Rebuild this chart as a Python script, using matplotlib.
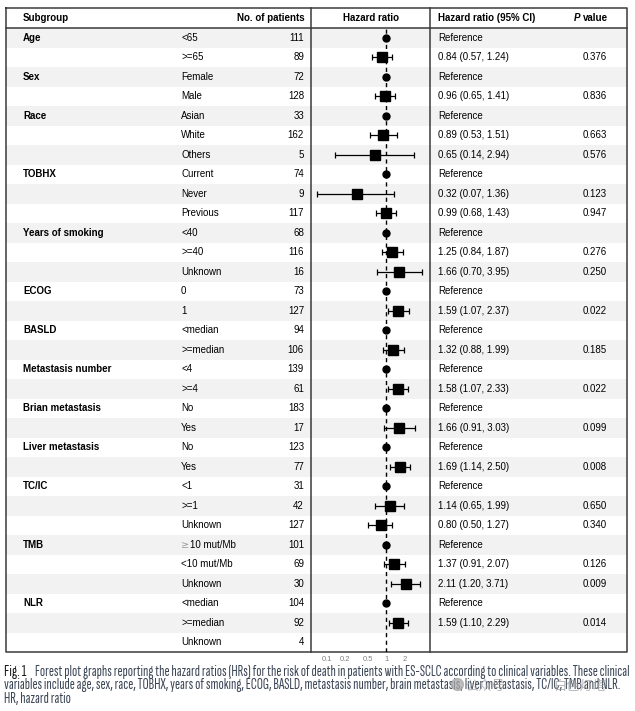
import numpy as np
import matplotlib.pyplot as plt
from matplotlib import font_manager

plt.rcParams['font.family'] = ['Liberation Sans', 'DejaVu Sans']

# table data, one entry per row
groups = ['Age', '', 'Sex', '', 'Race', '', '', 'TOBHX', '', '',
          'Years of smoking', '', '', 'ECOG', '', 'BASLD', '',
          'Metastasis number', '', 'Brian metastasis', '', 'Liver metastasis', '',
          'TC/IC', '', '', 'TMB', '', '', 'NLR', '', '']
levels = ['<65', '>=65', 'Female', 'Male', 'Asian', 'White', 'Others',
          'Current', 'Never', 'Previous', '<40', '>=40', 'Unknown', '0', '1',
          '<median', '>=median', '<4', '>=4', 'No', 'Yes', 'No', 'Yes',
          '<1', '>=1', 'Unknown', '\u226510 mut/Mb', '<10 mut/Mb', 'Unknown',
          '<median', '>=median', 'Unknown']
n_patients = [111, 89, 72, 128, 33, 162, 5, 74, 9, 117, 68, 116, 16, 73, 127,
              94, 106, 139, 61, 183, 17, 123, 77, 31, 42, 127, 101, 69, 30,
              104, 92, 4]
# 'ref' = reference level, None = not estimated
hr = ['ref', 0.84, 'ref', 0.96, 'ref', 0.89, 0.65, 'ref', 0.32, 0.99,
      'ref', 1.25, 1.66, 'ref', 1.59, 'ref', 1.32, 'ref', 1.58, 'ref', 1.66,
      'ref', 1.69, 'ref', 1.14, 0.80, 'ref', 1.37, 2.11, 'ref', 1.59, None]
ci_low = [None, 0.57, None, 0.65, None, 0.53, 0.14, None, 0.07, 0.68,
          None, 0.84, 0.70, None, 1.07, None, 0.88, None, 1.07, None, 0.91,
          None, 1.14, None, 0.65, 0.50, None, 0.91, 1.20, None, 1.10, None]
ci_high = [None, 1.24, None, 1.41, None, 1.51, 2.94, None, 1.36, 1.43,
           None, 1.87, 3.95, None, 2.37, None, 1.99, None, 2.33, None, 3.03,
           None, 2.50, None, 1.99, 1.27, None, 2.07, 3.71, None, 2.29, None]
p_values = ['', '0.376', '', '0.836', '', '0.663', '0.576', '', '0.123', '0.947',
            '', '0.276', '0.250', '', '0.022', '', '0.185', '', '0.022', '', '0.099',
            '', '0.008', '', '0.650', '0.340', '', '0.126', '0.009', '', '0.014', '']
ticks = [0.1, 0.2, 0.5, 1, 2]

caption = ['Forest plot graphs reporting the hazard ratios (HRs) for the risk of death in patients with ES-SCLC according to clinical variables. These clinical',
           'variables include age, sex, race, TOBHX, years of smoking, ECOG, BASLD, metastasis number, brain metastasis, liver metastasis, TC/IC, TMB and NLR.',
           'HR, hazard ratio']

W, H = 635, 711
fig = plt.figure(figsize=(W / 100, H / 100), dpi=100)

# background axes in pixel coords for the table
tab = fig.add_axes([0, 0, 1, 1])
tab.set_xlim(0, W)
tab.set_ylim(H, 0)
tab.axis('off')

left, right, top, head, bottom = 6, 627, 8, 28, 652
x_sep1, x_sep2 = 311, 430
nrows = len(levels)
row_h = (bottom - head) / nrows
fs = 7

for i in range(nrows):
    y0 = head + i * row_h
    if i % 2 == 0:
        tab.fill_between([left, right], y0, y0 + row_h, color='#f2f2f2', lw=0, zorder=0)

# frame
lc = '#3a3a3a'
tab.plot([left, right, right, left, left], [top, top, bottom, bottom, top], color=lc, lw=1.1, zorder=3)
tab.plot([left, right], [head, head], color=lc, lw=1.1, zorder=3)
for xs in (x_sep1, x_sep2):
    tab.plot([xs, xs], [top, bottom], color=lc, lw=1.1, zorder=3)

# header
hy = (top + head) / 2
tab.text(23, hy, 'Subgroup', fontsize=fs, fontweight='bold', va='center')
tab.text(305, hy, 'No. of patients', fontsize=fs, fontweight='bold', va='center', ha='right')
tab.text(371, hy, 'Hazard ratio', fontsize=fs, fontweight='bold', va='center', ha='center')
tab.text(438, hy, 'Hazard ratio (95% CI)', fontsize=fs, fontweight='bold', va='center')
tab.text(574, hy, 'P', fontsize=fs, fontweight='bold', style='italic', va='center')
tab.text(583, hy, 'value', fontsize=fs, fontweight='bold', va='center')

for i in range(nrows):
    y = head + (i + 0.5) * row_h
    if groups[i]:
        tab.text(23, y, groups[i], fontsize=fs, fontweight='bold', va='center')
    lvl = levels[i]
    if lvl.startswith('\u2265'):
        tab.text(181, y, lvl[0], fontsize=fs, va='center', color='#a0a0a0', family='DejaVu Sans')
        tab.text(190, y, lvl[1:], fontsize=fs, va='center')
    else:
        tab.text(181, y, lvl, fontsize=fs, va='center')
    tab.text(304, y, str(n_patients[i]), fontsize=fs, va='center', ha='right')
    if hr[i] == 'ref':
        tab.text(438, y, 'Reference', fontsize=fs, va='center')
    elif hr[i] is not None:
        tab.text(438, y, f'{hr[i]:.2f} ({ci_low[i]:.2f}, {ci_high[i]:.2f})', fontsize=fs, va='center')
    if p_values[i]:
        tab.text(595, y, p_values[i], fontsize=fs, va='center', ha='center')

# forest plot axes
fx = fig.add_axes([x_sep1 / W, (H - bottom) / H, (x_sep2 - x_sep1) / W, (bottom - head) / H])
fx.patch.set_alpha(0)
fx.set_xscale('log')
fx.set_xlim(0.0545, 5.41)
fx.set_ylim(nrows, 0)
for s in fx.spines.values():
    s.set_visible(False)
fx.axvline(1, color='black', lw=1, ls=(0, (3, 2.5)), zorder=1)

for i in range(nrows):
    y = i + 0.5
    if hr[i] == 'ref':
        fx.plot(1, y, 'o', color='black', ms=5, zorder=3)
    elif hr[i] is not None:
        fx.errorbar(hr[i], y, xerr=[[hr[i] - ci_low[i]], [ci_high[i] - hr[i]]],
                    fmt='s', color='black', ms=7.5, elinewidth=0.9, capsize=2.2,
                    capthick=0.9, zorder=3)

fx.set_xticks(ticks)
fx.set_xticklabels([str(t) for t in ticks])
fx.xaxis.set_minor_locator(plt.NullLocator())
fx.tick_params(axis='x', length=0, pad=3, labelsize=5.5, labelcolor='#808080')
fx.set_yticks([])

# caption: narrowest installed sans face, size fitted so line 1 ends near the right edge
names = sorted({f.name for f in font_manager.fontManager.ttflist})
cands = [n for n in names if 'Sans' in n and ('Narrow' in n or 'Condensed' in n)] + ['Lato', 'Roboto']
renderer = fig.canvas.get_renderer()
best = None
for fam in cands:
    probe = fig.text(0, 0, caption[0], fontsize=10, family=fam)
    wpx = probe.get_window_extent(renderer).width
    probe.remove()
    size = 10 * (627 - 35) / wpx
    if best is None or size > best[1]:
        best = (fam, size)
cap_font, cfs = best
cap_c = '#3b4656'

tab.text(4, 672, 'Fig. 1', fontsize=cfs * 1.05, fontweight='bold', color='#1a1a1a',
         family=cap_font, va='center')
tab.text(35, 672, caption[0], fontsize=cfs, color=cap_c, family=cap_font, va='center')
tab.text(4, 685.5, caption[1], fontsize=cfs, color=cap_c, family=cap_font, va='center')
tab.text(4, 699, caption[2], fontsize=cfs, color=cap_c, family=cap_font, va='center')

# watermark
cjk = ['Noto Sans CJK SC', 'DejaVu Sans']
tab.plot(457, 684, 'o', ms=8.5, color='#a8a8a8', alpha=0.75, zorder=4)
tab.text(465, 686, '公众号', fontsize=9.5, color='#a0a0a0', alpha=0.75, family=cjk, va='center')
tab.text(553, 686, '白色灯塔', fontsize=9.5, color='#a0a0a0', alpha=0.75, family=cjk, va='center')

fig.savefig('out.png', dpi=100)
